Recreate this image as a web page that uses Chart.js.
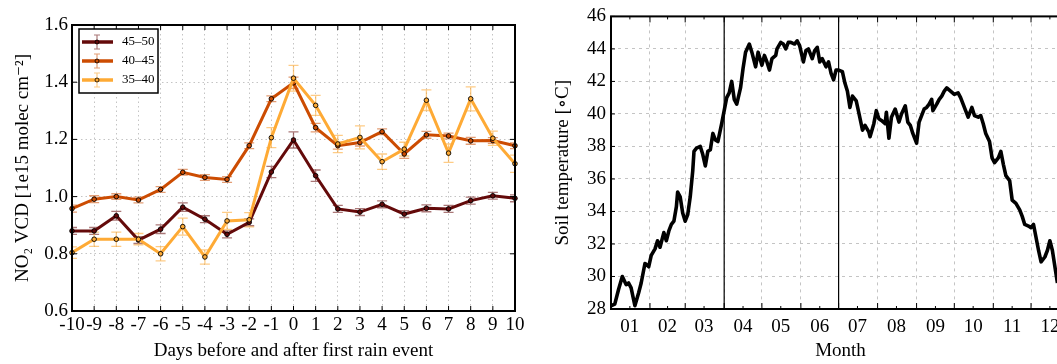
<!DOCTYPE html>
<html>
<head>
<meta charset="utf-8">
<script src="https://cdn.jsdelivr.net/npm/chart.js@4/dist/chart.umd.min.js"></script>
<style>
html, body { margin: 0; padding: 0; background: #fff; overflow: hidden; width: 1057px; height: 364px; }
#left { position: absolute; left: 0; top: 0; width: 530px; height: 364px; }
#right { position: absolute; left: 540px; top: 0; width: 540px; height: 364px; }
</style>
</head>
<body>
<div id="left"><canvas id="no2Chart"></canvas></div>
<div id="right"><canvas id="soilChart"></canvas></div>
<script>
// left panel: NO2 VCD around first rain event
var dayLabels = [-10, -9, -8, -7, -6, -5, -4, -3, -2, -1, 0, 1, 2, 3, 4, 5, 6, 7, 8, 9, 10];
var seriesNames = ["45\u201350", "40\u201345", "35\u201340"];
var no2_45_50 = [0.880, 0.880, 0.933, 0.848, 0.886, 0.963, 0.921, 0.868, 0.910, 1.086, 1.198,
                 1.073, 0.957, 0.946, 0.973, 0.939, 0.959, 0.957, 0.986, 1.003, 0.994];
var err_45_50 = [0.012, 0.012, 0.015, 0.012, 0.015, 0.015, 0.012, 0.012, 0.012, 0.02, 0.028,
                 0.02, 0.012, 0.012, 0.012, 0.012, 0.012, 0.012, 0.012, 0.012, 0.012];
var no2_40_45 = [0.958, 0.991, 1.000, 0.988, 1.025, 1.085, 1.067, 1.060, 1.178, 1.342, 1.398,
                 1.241, 1.178, 1.189, 1.227, 1.149, 1.216, 1.212, 1.195, 1.196, 1.178];
var err_40_45 = [0.012, 0.012, 0.01, 0.01, 0.01, 0.01, 0.01, 0.01, 0.01, 0.01, 0.02,
                 0.015, 0.012, 0.012, 0.01, 0.015, 0.012, 0.01, 0.012, 0.01, 0.01];
var no2_35_40 = [0.804, 0.851, 0.851, 0.851, 0.800, 0.895, 0.789, 0.915, 0.919, 1.206, 1.414,
                 1.319, 1.184, 1.207, 1.122, 1.166, 1.337, 1.152, 1.342, 1.204, 1.115];
var err_35_40 = [0.02, 0.025, 0.025, 0.02, 0.025, 0.03, 0.025, 0.03, 0.025, 0.035, 0.045,
                 0.035, 0.03, 0.04, 0.027, 0.024, 0.036, 0.032, 0.042, 0.025, 0.03];
var no2Ticks = [0.6, 0.8, 1.0, 1.2, 1.4, 1.6];

// right panel: soil temperature over the year (day of year)
var tempDays = [0, 3, 6, 9, 12, 14, 16, 19, 22, 24, 27, 30, 32, 35, 37, 39, 42, 44, 46, 48,
  50, 52, 53, 55, 57, 59, 61, 63, 65, 66, 68, 71, 73, 75, 77, 79, 81, 83, 85, 88,
  90, 92, 94, 96, 98, 100, 103, 105, 107, 110, 112, 115, 117, 120, 122, 124, 126, 128, 131, 132,
  135, 137, 139, 141, 143, 146, 148, 150, 153, 155, 157, 160, 162, 164, 166, 168, 171, 173, 175, 177,
  179, 181, 184, 186, 188, 190, 192, 195, 197, 200, 202, 205, 206, 209, 211, 213, 215, 218, 219, 221,
  223, 226, 229, 231, 234, 236, 238, 240, 243, 245, 247, 249, 251, 253, 255, 256, 259, 261, 263, 265,
  267, 270, 273, 276, 278, 280, 282, 284, 287, 289, 292, 294, 296, 298, 301, 303, 305, 308, 310, 312,
  314, 317, 319, 322, 325, 327, 329, 332, 334, 336, 338, 340, 342, 345, 347, 349, 351, 353, 355];
var tempValues = [28.2, 28.3, 29.2, 30.0, 29.5, 29.6, 29.3, 28.2, 29.0, 29.6, 30.8, 30.6, 31.3, 31.7, 32.2, 31.8, 32.7, 32.2, 32.8, 33.2,
  33.4, 34.3, 35.2, 34.9, 33.9, 33.4, 33.8, 34.9, 36.5, 37.7, 37.9, 38.0, 37.5, 36.8, 37.7, 37.8, 38.8, 38.4, 38.3, 39.4,
  40.2, 41.0, 41.3, 42.0, 40.9, 40.6, 41.6, 42.8, 43.8, 44.3, 43.8, 42.9, 43.8, 43.0, 43.6, 43.2, 42.7, 43.4, 43.6, 44.0,
  44.4, 44.3, 44.0, 44.4, 44.4, 44.3, 44.5, 44.2, 43.2, 43.9, 44.0, 43.4, 43.9, 44.1, 43.2, 43.4, 42.9, 43.2, 42.5, 42.1,
  42.7, 42.7, 42.6, 41.9, 41.4, 40.4, 41.1, 40.8, 40.1, 39.0, 39.3, 38.9, 38.6, 39.4, 40.2, 39.7, 39.6, 39.4, 40.1, 38.5,
  39.8, 40.3, 39.5, 40.0, 40.5, 39.5, 39.3, 38.8, 38.2, 39.5, 39.9, 40.3, 40.4, 40.6, 40.9, 40.2, 40.6, 40.9, 41.1, 41.4,
  41.6, 41.4, 41.2, 41.3, 41.0, 40.6, 40.2, 39.8, 40.4, 39.9, 39.8, 39.9, 39.4, 38.8, 38.3, 37.3, 37.0, 37.3, 37.7, 36.9,
  36.2, 35.9, 34.7, 34.5, 34.1, 33.7, 33.2, 33.1, 33.0, 33.2, 32.4, 31.6, 30.9, 31.2, 31.6, 32.2, 31.6, 30.6, 29.6];
var monthStartDays = [0, 31, 59, 90, 120, 151, 181, 212, 243, 273, 304, 334, 365];
var monthMidDays = [15, 45, 74, 105, 135, 166, 196, 227, 258, 288, 319, 349];
var monthLabels = ["01", "02", "03", "04", "05", "06", "07", "08", "09", "10", "11", "12"];
var markerDays = [90, 181];

var serif = '"Liberation Serif", "DejaVu Serif", serif';
var tickFont = { family: serif, size: 19 };

function makeFrame(xLen, yLen) {
    return {
        id: 'frame',
        afterDraw: function (chart) {
            var ctx = chart.ctx, a = chart.chartArea;
            var xs = chart.scales.x, ys = chart.scales.y;
            ctx.save();
            ctx.strokeStyle = '#000';
            ctx.lineWidth = 1;
            xs.ticks.forEach(function (t, i) {
                var px = xs.getPixelForTick(i);
                var len = xLen(t.value);
                ctx.beginPath();
                ctx.moveTo(px, a.bottom); ctx.lineTo(px, a.bottom - len);
                ctx.moveTo(px, a.top); ctx.lineTo(px, a.top + len);
                ctx.stroke();
            });
            ys.ticks.forEach(function (t, i) {
                var py = ys.getPixelForTick(i);
                ctx.beginPath();
                ctx.moveTo(a.left, py); ctx.lineTo(a.left + yLen, py);
                ctx.moveTo(a.right, py); ctx.lineTo(a.right - yLen, py);
                ctx.stroke();
            });
            ctx.lineWidth = 2;
            ctx.strokeRect(a.left, a.top, a.right - a.left, a.bottom - a.top);
            ctx.restore();
        }
    };
}

var errorBars = {
    id: 'errorBars',
    beforeDatasetsDraw: function (chart) {
        var ctx = chart.ctx, ys = chart.scales.y, a = chart.chartArea;
        ctx.save();
        ctx.beginPath();
        ctx.rect(a.left, a.top, a.right - a.left, a.bottom - a.top);
        ctx.clip();
        chart.data.datasets.forEach(function (ds, di) {
            var meta = chart.getDatasetMeta(di);
            ctx.strokeStyle = ds.errorColor;
            ctx.lineWidth = 1.3;
            meta.data.forEach(function (pt, i) {
                var y1 = ys.getPixelForValue(ds.data[i] - ds.errors[i]);
                var y2 = ys.getPixelForValue(ds.data[i] + ds.errors[i]);
                ctx.beginPath();
                ctx.moveTo(pt.x, y1); ctx.lineTo(pt.x, y2);
                ctx.moveTo(pt.x - 5, y1); ctx.lineTo(pt.x + 5, y1);
                ctx.moveTo(pt.x - 5, y2); ctx.lineTo(pt.x + 5, y2);
                ctx.stroke();
            });
        });
        ctx.restore();
    }
};

var boxLegend = {
    id: 'boxLegend',
    afterDraw: function (chart) {
        var ctx = chart.ctx, a = chart.chartArea;
        var x0 = a.left + 7, y0 = a.top + 4, w = 79, h = 64;
        ctx.save();
        ctx.fillStyle = '#fff';
        ctx.fillRect(x0, y0, w, h);
        ctx.strokeStyle = '#000';
        ctx.lineWidth = 1.5;
        ctx.strokeRect(x0, y0, w, h);
        chart.data.datasets.forEach(function (ds, i) {
            var cy = y0 + 13 + i * 19, cx = x0 + 18;
            ctx.strokeStyle = ds.borderColor;
            ctx.lineWidth = 3.5;
            ctx.beginPath(); ctx.moveTo(x0 + 3, cy); ctx.lineTo(x0 + 34, cy); ctx.stroke();
            ctx.strokeStyle = ds.errorColor;
            ctx.lineWidth = 1.2;
            ctx.beginPath();
            ctx.moveTo(cx, cy - 7); ctx.lineTo(cx, cy + 7);
            ctx.moveTo(cx - 3, cy - 7); ctx.lineTo(cx + 3, cy - 7);
            ctx.moveTo(cx - 3, cy + 7); ctx.lineTo(cx + 3, cy + 7);
            ctx.stroke();
            ctx.beginPath();
            ctx.arc(cx, cy, 2, 0, Math.PI * 2);
            ctx.fillStyle = ds.borderColor; ctx.fill();
            ctx.strokeStyle = '#000'; ctx.lineWidth = 0.8; ctx.stroke();
            ctx.fillStyle = '#000';
            ctx.font = '13px ' + serif;
            ctx.textBaseline = 'middle';
            ctx.fillText(ds.label, x0 + 43, cy);
        });
        ctx.restore();
    }
};

function no2Dataset(label, values, errors, color, errColor, order) {
    return {
        label: label,
        data: values,
        errors: errors,
        errorColor: errColor,
        borderColor: color,
        backgroundColor: color,
        borderWidth: 3,
        pointRadius: 2.3,
        pointBackgroundColor: color,
        pointBorderColor: '#000',
        pointBorderWidth: 0.9,
        tension: 0,
        order: order
    };
}

new Chart(document.getElementById('no2Chart'), {
    type: 'line',
    data: {
        labels: dayLabels,
        datasets: [
            no2Dataset(seriesNames[0], no2_45_50, err_45_50, '#640a0a', 'rgba(100,10,10,0.55)', 3),
            no2Dataset(seriesNames[1], no2_40_45, err_40_45, '#cc4c02', 'rgba(204,76,2,0.55)', 2),
            no2Dataset(seriesNames[2], no2_35_40, err_35_40, '#feaa35', 'rgba(254,170,53,0.6)', 1)
        ]
    },
    options: {
        responsive: true,
        maintainAspectRatio: false,
        animation: false,
        layout: { padding: { left: 0, top: 25, right: 15, bottom: 0 } },
        plugins: { legend: { display: false }, tooltip: { enabled: false } },
        scales: {
            x: {
                type: 'category',
                offset: false,
                grid: { color: '#c4c4c4', lineWidth: 1, drawTicks: false, offset: false },
                border: { display: false, dash: [1.5, 3] },
                ticks: { font: tickFont, color: '#000', padding: 3, autoSkip: false, maxRotation: 0 },
                title: { display: true, text: 'Days before and after first rain event', font: tickFont, color: '#000', padding: { top: 0, bottom: 2 } },
                afterFit: function (s) { s.height = 53; }
            },
            y: {
                min: 0.6,
                max: 1.6,
                afterBuildTicks: function (s) { s.ticks = no2Ticks.map(function (v) { return { value: v }; }); },
                grid: { color: '#c4c4c4', lineWidth: 1, drawTicks: false },
                border: { display: false, dash: [1.5, 3] },
                ticks: { font: tickFont, color: '#000', padding: 4, callback: function (v) { return Number(v).toFixed(1); } },
                title: { display: true, text: 'NO\u2082 VCD [1e15 molec cm\u207B\u00B2]', font: tickFont, color: '#000', padding: { top: 12, bottom: 0 } },
                afterFit: function (s) { s.width = 72; }
            }
        }
    },
    plugins: [errorBars, makeFrame(function () { return 5; }, 5), boxLegend]
});

var monthLines = {
    id: 'monthLines',
    beforeDatasetsDraw: function (chart) {
        var ctx = chart.ctx, xs = chart.scales.x, a = chart.chartArea;
        ctx.save();
        ctx.strokeStyle = '#000';
        ctx.lineWidth = 1.2;
        markerDays.forEach(function (d) {
            var px = xs.getPixelForValue(d);
            ctx.beginPath(); ctx.moveTo(px, a.top); ctx.lineTo(px, a.bottom); ctx.stroke();
        });
        ctx.restore();
    }
};

new Chart(document.getElementById('soilChart'), {
    type: 'line',
    data: {
        datasets: [{
            label: 'Soil temperature',
            data: tempDays.map(function (d, i) { return { x: d, y: tempValues[i] }; }),
            borderColor: '#000',
            borderWidth: 3.6,
            pointRadius: 0,
            tension: 0,
            borderJoinStyle: 'round'
        }]
    },
    options: {
        responsive: true,
        maintainAspectRatio: false,
        animation: false,
        layout: { padding: { left: 0, top: 15, right: 10, bottom: 0 } },
        plugins: { legend: { display: false }, tooltip: { enabled: false } },
        scales: {
            x: {
                type: 'linear',
                min: 0,
                max: 365,
                afterBuildTicks: function (s) {
                    var t = [];
                    monthStartDays.forEach(function (d) { t.push({ value: d }); });
                    monthMidDays.forEach(function (d) { t.push({ value: d }); });
                    t.sort(function (p, q) { return p.value - q.value; });
                    s.ticks = t;
                },
                grid: {
                    drawTicks: false,
                    lineWidth: 1,
                    color: function (c) {
                        return c.tick && monthStartDays.indexOf(c.tick.value) >= 0 ? '#c4c4c4' : 'rgba(0,0,0,0)';
                    }
                },
                border: { display: false, dash: [3, 4] },
                ticks: {
                    font: tickFont, color: '#000', padding: 7, autoSkip: false, maxRotation: 0,
                    callback: function (v) {
                        var k = monthMidDays.indexOf(v);
                        return k >= 0 ? monthLabels[k] : '';
                    }
                },
                title: { display: true, text: 'Month', font: tickFont, color: '#000', padding: { top: 0, bottom: 2 } },
                afterFit: function (s) { s.height = 55; }
            },
            y: {
                min: 28,
                max: 46,
                ticks: { stepSize: 2, font: tickFont, color: '#000', padding: 5 },
                grid: { color: '#c4c4c4', lineWidth: 1, drawTicks: false },
                border: { display: false, dash: [3, 4] },
                title: { display: true, text: 'Soil temperature [\u2218C]', font: tickFont, color: '#000', padding: { top: 12, bottom: 0 } },
                afterFit: function (s) { s.width = 71; }
            }
        }
    },
    plugins: [monthLines, makeFrame(function (v) { return monthStartDays.indexOf(v) >= 0 ? 6 : 3; }, 4)]
});
</script>
</body>
</html>
